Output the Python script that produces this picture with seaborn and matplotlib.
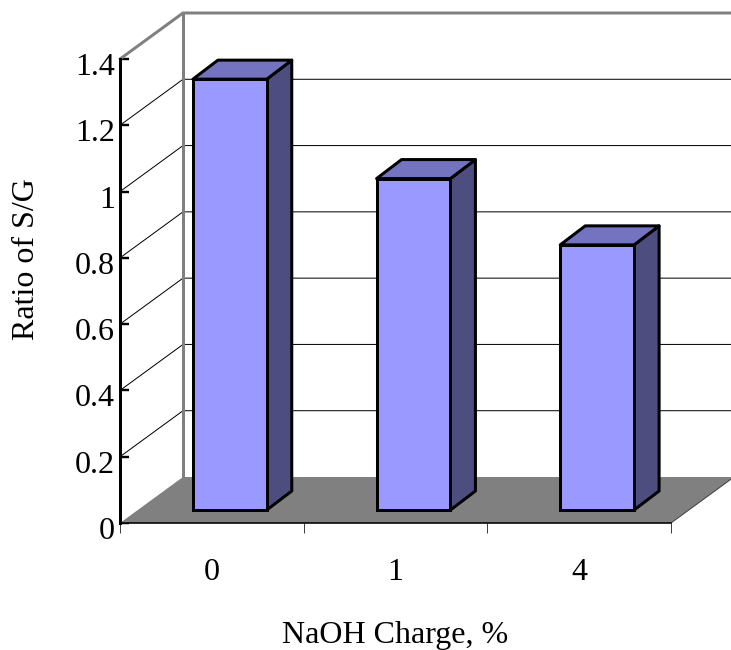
import matplotlib
matplotlib.use("Agg")
import matplotlib.pyplot as plt
import seaborn as sns
from matplotlib.patches import Polygon
from matplotlib.transforms import Affine2D

categories = ["0", "1", "4"]
ratio_sg = [1.3, 1.0, 0.8]
y_ticks = [0, 0.2, 0.4, 0.6, 0.8, 1.0, 1.2, 1.4]
y_tick_labels = ["0", "0.2", "0.4", "0.6", "0.8", "1", "1.2", "1.4"]
x_label = "NaOH Charge, %"
y_label = "Ratio of S/G"

FRONT, TOP, SIDE = "#9999FF", "#7373BF", "#4D4D80"
GREY = "#808080"

sns.set_theme(style="white")
plt.rcParams["font.family"] = ["Liberation Serif", "DejaVu Serif"]
PX = 0.72
FS = 23

W, H = 731, 650
fig = plt.figure(figsize=(W / 100, H / 100), dpi=100, facecolor="white")
ax = fig.add_axes([120 / W, (H - 523) / H, 551 / W, 464 / H])
ax.patch.set_alpha(0)

sns.barplot(x=categories, y=ratio_sg, color=FRONT, saturation=1, width=74 / 184,
            edgecolor="black", linewidth=3 * PX, ax=ax)
ax.set_xlim(-0.5, 2.5)
ax.set_ylim(0, 1.4)

ux, uy = 3 / 551, 1.4 / 464       # data units per pixel
DX, DY = 63 * ux, 46 * uy         # depth of the walls
dx, dy = 25 * ux, 19 * uy         # depth of the bars
x0, x1 = -0.5, 2.5

# floor
ax.add_patch(Polygon([(x0, 0), (x1, 0), (x1 + DX, DY), (x0 + DX, DY)], closed=True,
                     fc=GREY, ec="none", zorder=1, clip_on=False))
ax.plot([x1, x1 + DX], [0, DY], color="#404040", lw=1 * PX, zorder=1.5, clip_on=False)

# gridlines on the walls
for v in y_ticks[1:-1]:
    ax.plot([x0, x0 + DX, x1 + DX], [v, v + DY, v + DY], color="black", lw=1 * PX,
            zorder=1.2, clip_on=False)
# top and back edges of the wall
ax.plot([x0, x0 + DX, x1 + DX], [1.4, 1.4 + DY, 1.4 + DY], color=GREY, lw=3 * PX,
        zorder=1.3, clip_on=False, solid_joinstyle="miter")
ax.plot([x0 + DX, x0 + DX], [DY, 1.4 + DY], color=GREY, lw=3 * PX, zorder=1.3, clip_on=False)

# 3D bars
shift = ax.transData + Affine2D().translate(18, 13)
for patch, v in zip(ax.patches[:len(ratio_sg)], ratio_sg):
    patch.set_transform(shift)
    patch.set_zorder(5)
    patch.set_clip_on(False)
    patch.set_joinstyle("miter")
    l, r = patch.get_x(), patch.get_x() + patch.get_width()
    for pts, col in (([(r, 0), (r + dx, dy), (r + dx, v + dy), (r, v)], SIDE),
                     ([(l, v), (l + dx, v + dy), (r + dx, v + dy), (r, v)], TOP)):
        ax.add_patch(Polygon(pts, closed=True, fc=col, ec="black", lw=3 * PX, zorder=4.5,
                             transform=shift, clip_on=False, joinstyle="round"))

# axes
sns.despine(ax=ax)
ax.spines["left"].set_linewidth(3 * PX)
ax.spines["left"].set_color("black")
ax.spines["bottom"].set_linewidth(1.6 * PX)
ax.spines["bottom"].set_color("black")
ax.spines["left"].set_zorder(6)
ax.spines["bottom"].set_zorder(3)

ax.set_yticks(y_ticks, y_tick_labels, fontsize=FS, color="black")
ax.tick_params(axis="y", direction="in", length=9 * PX, width=2.4 * PX, color="black",
               pad=3.5, left=True, zorder=6)
for lab in ax.get_yticklabels():
    lab.set_transform(lab.get_transform() + Affine2D().translate(0, -5))
ax.set_xticks([-0.5, 0.5, 1.5, 2.5], ["", "", "", ""])
ax.tick_params(axis="x", which="major", direction="out", length=10 * PX, width=1 * PX,
               color="#404040", bottom=True)
ax.set_xticks([0, 1, 2], categories, minor=True, fontsize=FS, color="black")
ax.tick_params(axis="x", which="minor", length=0, pad=25)
ax.grid(False)

ax.set_xlabel("")
ax.set_ylabel("")
fig.text(395 / W, (H - 635) / H, x_label, ha="center", va="center", fontsize=FS, color="black")
fig.text(27 / W, (H - 259) / H, y_label, ha="center", va="center", rotation=90,
         fontsize=FS, color="black")

fig.savefig("out.png", dpi=100, facecolor="white")
